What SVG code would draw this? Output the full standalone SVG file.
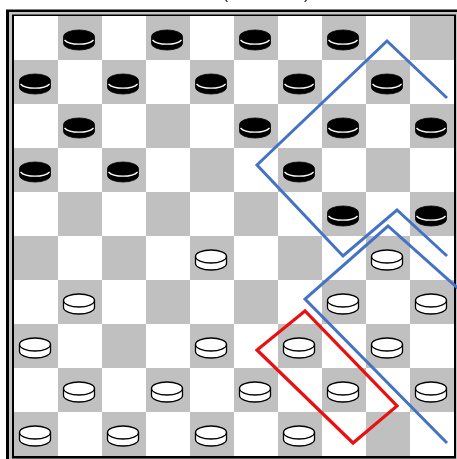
<svg xmlns="http://www.w3.org/2000/svg" xmlns:xlink="http://www.w3.org/1999/xlink" width="457" height="459" viewBox="0 0 457 459">
<style>
.sq{fill:#c0c0c0}
.bl{fill:none;stroke:#4472c4;stroke-width:3;stroke-linejoin:miter}
.rd{fill:none;stroke:#e81010;stroke-width:3.2;stroke-linejoin:miter}
.ttl{font-family:"Liberation Sans",Arial,sans-serif;font-size:15px;fill:#000}
</style>
<defs>
<g id="bp">
<path d="M-15.5,-3.5 A15.5,6.5 0 0 1 15.5,-3.5 L15.5,3.5 A15.5,6.5 0 0 1 -15.5,3.5 Z" fill="#000" stroke="#000" stroke-width="0.8"/>
<path d="M-14.5,0 A15.5,6.5 0 0 0 14.5,0" fill="none" stroke="#fff" stroke-width="1.3"/>
</g>
<g id="wp">
<path d="M-15.5,-3.5 A15.5,6.5 0 0 1 15.5,-3.5 L15.5,3.5 A15.5,6.5 0 0 1 -15.5,3.5 Z" fill="#fff" stroke="#000" stroke-width="1.3"/>
<path d="M-15.5,-3.5 A15.5,6.5 0 0 0 15.5,-3.5" fill="none" stroke="#000" stroke-width="1.3"/>
</g>
</defs>
<rect width="457" height="459" fill="#fff"/>
<text class="ttl" x="223" y="-1">(</text>
<text class="ttl" x="304" y="-1">)</text>
<g id="frame">
<rect x="6" y="9.5" width="460" height="460" fill="#000"/>
<rect x="9" y="12" width="455" height="455" fill="#c4c4c4"/>
<rect x="12" y="14.5" width="444" height="444" fill="#000"/>
<rect x="14" y="16" width="440" height="440" fill="#fff"/>
</g>
<g id="board">
<rect class="sq" x="58" y="16" width="44" height="44"/><rect class="sq" x="146" y="16" width="44" height="44"/><rect class="sq" x="234" y="16" width="44" height="44"/><rect class="sq" x="322" y="16" width="44" height="44"/><rect class="sq" x="410" y="16" width="44" height="44"/>
<rect class="sq" x="14" y="60" width="44" height="44"/><rect class="sq" x="102" y="60" width="44" height="44"/><rect class="sq" x="190" y="60" width="44" height="44"/><rect class="sq" x="278" y="60" width="44" height="44"/><rect class="sq" x="366" y="60" width="44" height="44"/>
<rect class="sq" x="58" y="104" width="44" height="44"/><rect class="sq" x="146" y="104" width="44" height="44"/><rect class="sq" x="234" y="104" width="44" height="44"/><rect class="sq" x="322" y="104" width="44" height="44"/><rect class="sq" x="410" y="104" width="44" height="44"/>
<rect class="sq" x="14" y="148" width="44" height="44"/><rect class="sq" x="102" y="148" width="44" height="44"/><rect class="sq" x="190" y="148" width="44" height="44"/><rect class="sq" x="278" y="148" width="44" height="44"/><rect class="sq" x="366" y="148" width="44" height="44"/>
<rect class="sq" x="58" y="192" width="44" height="44"/><rect class="sq" x="146" y="192" width="44" height="44"/><rect class="sq" x="234" y="192" width="44" height="44"/><rect class="sq" x="322" y="192" width="44" height="44"/><rect class="sq" x="410" y="192" width="44" height="44"/>
<rect class="sq" x="14" y="236" width="44" height="44"/><rect class="sq" x="102" y="236" width="44" height="44"/><rect class="sq" x="190" y="236" width="44" height="44"/><rect class="sq" x="278" y="236" width="44" height="44"/><rect class="sq" x="366" y="236" width="44" height="44"/>
<rect class="sq" x="58" y="280" width="44" height="44"/><rect class="sq" x="146" y="280" width="44" height="44"/><rect class="sq" x="234" y="280" width="44" height="44"/><rect class="sq" x="322" y="280" width="44" height="44"/><rect class="sq" x="410" y="280" width="44" height="44"/>
<rect class="sq" x="14" y="324" width="44" height="44"/><rect class="sq" x="102" y="324" width="44" height="44"/><rect class="sq" x="190" y="324" width="44" height="44"/><rect class="sq" x="278" y="324" width="44" height="44"/><rect class="sq" x="366" y="324" width="44" height="44"/>
<rect class="sq" x="58" y="368" width="44" height="44"/><rect class="sq" x="146" y="368" width="44" height="44"/><rect class="sq" x="234" y="368" width="44" height="44"/><rect class="sq" x="322" y="368" width="44" height="44"/><rect class="sq" x="410" y="368" width="44" height="44"/>
<rect class="sq" x="14" y="412" width="44" height="44"/><rect class="sq" x="102" y="412" width="44" height="44"/><rect class="sq" x="190" y="412" width="44" height="44"/><rect class="sq" x="278" y="412" width="44" height="44"/><rect class="sq" x="366" y="412" width="44" height="44"/>
</g>
<g id="black-pieces">
<g id="b1"><use xlink:href="#bp" x="79" y="40"/></g>
<g id="b2"><use xlink:href="#bp" x="167" y="40"/></g>
<g id="b3"><use xlink:href="#bp" x="255" y="40"/></g>
<g id="b4"><use xlink:href="#bp" x="343" y="40"/></g>
<g id="b5"><use xlink:href="#bp" x="35" y="84"/></g>
<g id="b6"><use xlink:href="#bp" x="123" y="84"/></g>
<g id="b7"><use xlink:href="#bp" x="211" y="84"/></g>
<g id="b8"><use xlink:href="#bp" x="299" y="84"/></g>
<g id="b9"><use xlink:href="#bp" x="387" y="84"/></g>
<g id="b10"><use xlink:href="#bp" x="79" y="128"/></g>
<g id="b11"><use xlink:href="#bp" x="255" y="128"/></g>
<g id="b12"><use xlink:href="#bp" x="343" y="128"/></g>
<g id="b13"><use xlink:href="#bp" x="431" y="128"/></g>
<g id="b14"><use xlink:href="#bp" x="35" y="172"/></g>
<g id="b15"><use xlink:href="#bp" x="123" y="172"/></g>
<g id="b16"><use xlink:href="#bp" x="299" y="172"/></g>
<g id="b17"><use xlink:href="#bp" x="343" y="216"/></g>
<g id="b18"><use xlink:href="#bp" x="431" y="216"/></g>
</g>
<g id="white-pieces">
<g id="w1"><use xlink:href="#wp" x="211" y="260"/></g>
<g id="w2"><use xlink:href="#wp" x="387" y="260"/></g>
<g id="w3"><use xlink:href="#wp" x="79" y="304"/></g>
<g id="w4"><use xlink:href="#wp" x="343" y="304"/></g>
<g id="w5"><use xlink:href="#wp" x="431" y="304"/></g>
<g id="w6"><use xlink:href="#wp" x="35" y="348"/></g>
<g id="w7"><use xlink:href="#wp" x="211" y="348"/></g>
<g id="w8"><use xlink:href="#wp" x="299" y="348"/></g>
<g id="w9"><use xlink:href="#wp" x="387" y="348"/></g>
<g id="w10"><use xlink:href="#wp" x="79" y="392"/></g>
<g id="w11"><use xlink:href="#wp" x="167" y="392"/></g>
<g id="w12"><use xlink:href="#wp" x="255" y="392"/></g>
<g id="w13"><use xlink:href="#wp" x="343" y="392"/></g>
<g id="w14"><use xlink:href="#wp" x="431" y="392"/></g>
<g id="w15"><use xlink:href="#wp" x="35" y="436"/></g>
<g id="w16"><use xlink:href="#wp" x="123" y="436"/></g>
<g id="w17"><use xlink:href="#wp" x="211" y="436"/></g>
<g id="w18"><use xlink:href="#wp" x="299" y="436"/></g>
</g>
<g id="connectors">
<polyline class="bl" points="447,98 387,41 257,165 343,256 397,210 447,256"/>
<polyline class="bl" points="462,292 388,226 305,299 447,443"/>
<polygon class="rd" points="305,311 257,350 353,443 397,406"/>
</g>
</svg>
